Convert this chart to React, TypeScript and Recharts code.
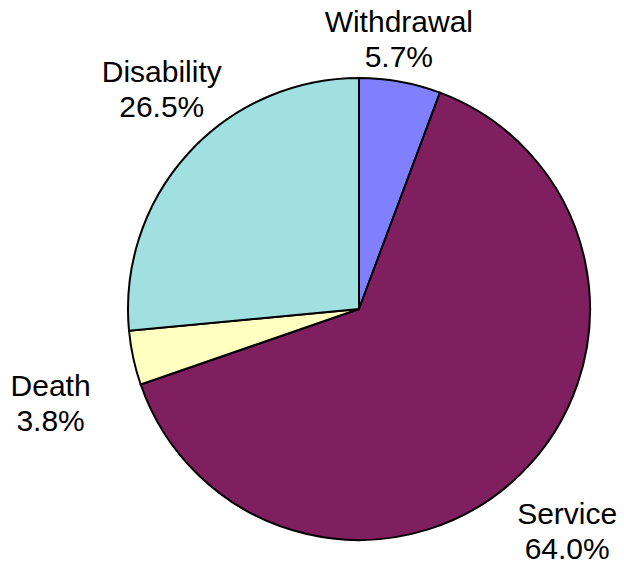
import { PieChart, Pie, Cell } from 'recharts';

const categories = ['Withdrawal', 'Service', 'Death', 'Disability'];
const shares = [5.7, 64.0, 3.8, 26.5];
const sliceColors = ['#8080FF', '#7F1F5F', '#FFFFC0', '#A0E0E0'];

const data = categories.map((name, i) => ({ name, value: shares[i] }));

const RADIAN = Math.PI / 180;
// small hand tweaks so the labels sit where the original's best-fit put them
const labelNudge: Record<string, [number, number]> = {
  Withdrawal: [-12, 27],
  Service: [5, 24],
  Death: [-24, 43],
  Disability: [18, -14],
};

const renderLabel = (props: any) => {
  const { cx, cy, midAngle, outerRadius, name, value } = props;
  const r = outerRadius + 60;
  const [dx, dy] = labelNudge[name] || [0, 0];
  const x = cx + r * Math.cos(-midAngle * RADIAN) + dx;
  const y = cy + r * Math.sin(-midAngle * RADIAN) + dy;
  return (
    <text
      x={x}
      y={y}
      textAnchor="middle"
      fill="#000"
      fontFamily="'Liberation Sans', Arial, sans-serif"
      fontSize={30}
    >
      <tspan x={x} y={y - 17.5}>{name}</tspan>
      <tspan x={x} y={y + 17.5}>{`${value.toFixed(1)}%`}</tspan>
    </text>
  );
};

const App = () => {
  return (
    <div style={{ position: 'absolute', left: 0, top: 0, background: '#fff' }}>
      <PieChart width={624} height={564} margin={{ top: 0, right: 0, bottom: 0, left: 0 }}>
        <Pie
          data={data}
          dataKey="value"
          nameKey="name"
          cx={359}
          cy={309}
          outerRadius={231}
          startAngle={90}
          endAngle={-270}
          stroke="#000"
          strokeWidth={2}
          label={renderLabel}
          labelLine={false}
          isAnimationActive={false}
        >
          {data.map((d, i) => (
            <Cell key={d.name} fill={sliceColors[i]} />
          ))}
        </Pie>
      </PieChart>
    </div>
  );
};

export default App;
